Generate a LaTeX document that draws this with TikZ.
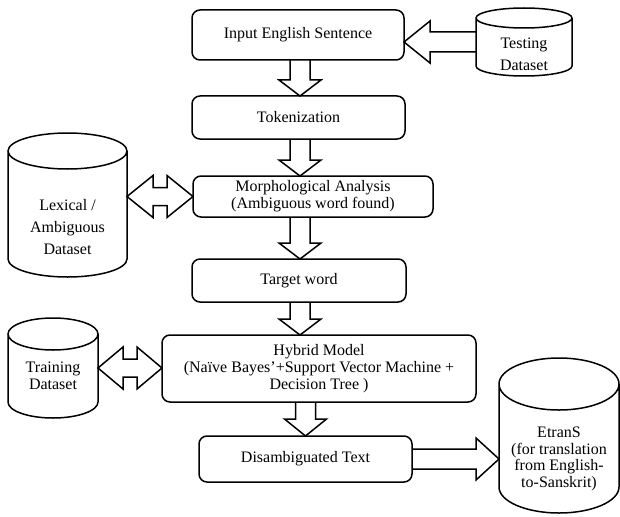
\documentclass[tikz,border=0pt]{standalone}
\usepackage{fontspec}
\setmainfont{Liberation Serif}
\usepackage{tikz}
\usetikzlibrary{calc}
% hollow block arrow from #1 to tip #2, head length #3
\newcommand{\fatarrow}[3]{\coordinate (fa) at ($(#2)!#3pt!(#1)$);
  \draw[blockline] ($(#1)!10pt!90:(#2)$) -- ($(fa)!10pt!90:(#2)$) -- ($(fa)!21pt!90:(#2)$) -- (#2) -- ($(fa)!21pt!-90:(#2)$) -- ($(fa)!10pt!-90:(#2)$) -- ($(#1)!10pt!-90:(#2)$);}
% hollow block arrow with two heads
\newcommand{\fatboth}[3]{\coordinate (fb1) at ($(#1)!#3pt!(#2)$); \coordinate (fb2) at ($(#2)!#3pt!(#1)$);
  \draw[blockline] (#1) -- ($(fb1)!21pt!90:(#2)$) -- ($(fb1)!9pt!90:(#2)$) -- ($(fb2)!9pt!90:(#2)$) -- ($(fb2)!21pt!90:(#2)$) -- (#2) -- ($(fb2)!21pt!-90:(#2)$) -- ($(fb2)!9pt!-90:(#2)$) -- ($(fb1)!9pt!-90:(#2)$) -- ($(fb1)!21pt!-90:(#2)$) -- cycle;}
% database drum round node #1, cap radius #2
\newcommand{\dbdraw}[2]{\draw[blockline] let \p1 = ($(#1.east)-(#1.west)$) in
  ($(#1.north west)+(0,-#2)$) -- ($(#1.south west)+(0,#2)$) arc[start angle=180, end angle=360, x radius=0.5*\x1, y radius=#2pt] -- ($(#1.north east)+(0,-#2)$)
  ($(#1.north)+(0,-#2)$) ellipse[x radius=0.5*\x1, y radius=#2pt];}
\tikzset{
  blockline/.style={line width=1.5pt, line join=miter},
  stage/.style={draw, line width=1.5pt, rounded corners=8pt, align=center, inner sep=2pt, outer sep=0pt},
  drum/.style={inner sep=0pt, outer sep=0pt}
}

\begin{document}
\begin{tikzpicture}[x=1pt, y=1pt, font=\fontsize{16}{16.7}\selectfont]
  \useasboundingbox (0,0) rectangle (620,-516);
  \coordinate (spine) at (300,0);
  % main column
  \node[stage, minimum width=212pt, minimum height=50pt] (input) at (298,-35) {Input English Sentence};
  \node[stage, minimum width=213pt, minimum height=43pt] (token) at (298.5,-117.5) {Tokenization};
  \node[stage, minimum width=240pt, minimum height=41pt] (morph) at (313,-196.5) {Morphological Analysis\\(Ambiguous word found)};
  \node[stage, minimum width=214pt, minimum height=43pt] (target) at (299,-280.5) {Target word};
  \node[stage, minimum width=314pt, minimum height=67pt] (hybrid) at (319,-368.5) {Hybrid Model\\(Naïve Bayes'+Support Vector Machine +\\Decision Tree )};
  \node[stage, minimum width=213pt, minimum height=46pt] (disamb) at (305.5,-459) {Disambiguated Text};
  % databases
  \node[drum, minimum width=96pt, minimum height=68pt] (testdb) at (524,-42) {};
  \dbdraw{testdb}{10}
  \node[align=center] (testtxt) at (524,-54) {Testing\\[5pt]Dataset};
  \node[drum, minimum width=119pt, minimum height=144pt] (lexdb) at (67.5,-205) {};
  \dbdraw{lexdb}{18}
  \node[align=center] (lextxt) at (67.5,-227) {Lexical /\\[5pt]Ambiguous\\[5pt]Dataset};
  \node[drum, minimum width=90pt, minimum height=100pt] (traindb) at (53,-368) {};
  \dbdraw{traindb}{16}
  \node[align=center] (traintxt) at (53,-376) {Training\\Dataset};
  \node[drum, minimum width=120pt, minimum height=155pt] (etrans) at (559,-435.5) {};
  \dbdraw{etrans}{26}
  \node[align=center] (etranstxt) at (559,-459) {EtranS\\(for translation\\from English-\\to-Sanskrit)};
  % arrows
  \fatarrow{input.south -| spine}{token.north -| spine}{16}
  \fatarrow{token.south -| spine}{morph.north -| spine}{16}
  \fatarrow{morph.south -| spine}{target.north -| spine}{16}
  \fatarrow{target.south -| spine}{hybrid.north -| spine}{16}
  \fatarrow{hybrid.south -| disamb}{disamb.north}{17}
  \fatarrow{testdb.west}{testdb.west -| input.east}{26}
  \fatarrow{disamb.east}{disamb.east -| etrans.west}{23}
  \fatboth{lexdb.east |- morph.west}{morph.west}{26}
  \fatboth{traindb.east}{traindb.east -| hybrid.west}{25}
\end{tikzpicture}
\end{document}
